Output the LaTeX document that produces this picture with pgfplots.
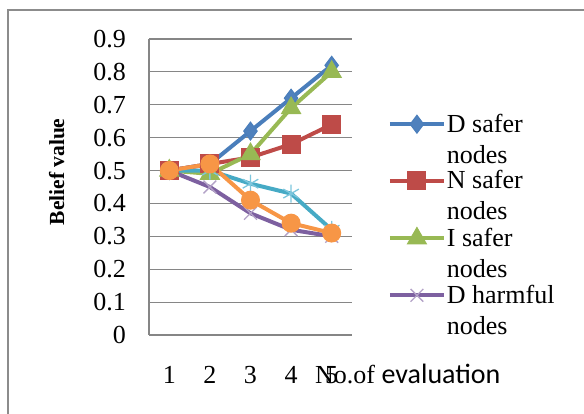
\documentclass[border=0pt]{standalone}
\usepackage{pgfplots}
\pgfplotsset{compat=1.18}
\usepackage{fontspec}
\setmainfont{Liberation Serif}
\newfontfamily\carlito{Carlito}
\definecolor{cblue}{HTML}{4A7EBB}
\definecolor{cbluem}{HTML}{4F81BD}
\definecolor{cred}{HTML}{BE4B48}
\definecolor{cgreen}{HTML}{98B954}
\definecolor{cpurple}{HTML}{7D60A0}
\definecolor{cpurplem}{HTML}{B3A2C7}
\definecolor{ccyan}{HTML}{46AAC5}
\definecolor{ccyanm}{HTML}{7DC6DD}
\definecolor{corange}{HTML}{F79646}
\definecolor{gridgray}{HTML}{868686}
\definecolor{bordergray}{HTML}{8C8C8C}
\begin{document}
\begin{tikzpicture}[x=1pt,y=1pt]
\path[use as bounding box] (0,0) rectangle (584,414);
\draw[color=bordergray, line width=2.2pt] (8,-5) -- (8,404) -- (590,404);
\begin{axis}[
  at={(149pt,79pt)}, anchor=south west,
  scale only axis, width=203pt, height=296pt,
  xmin=0.5, xmax=5.5, ymin=0, ymax=0.9,
  axis x line*=bottom, axis y line*=left,
  axis line style={draw=gridgray, line width=1.2pt, -},
  xtick={1,2,3,4,5}, xticklabels={1,2,3,4,5},
  ytick={0,0.1,0.2,0.3,0.4,0.5,0.6,0.7,0.8,0.9},
  yticklabels={0,0.1,0.2,0.3,0.4,0.5,0.6,0.7,0.8,0.9},
  major tick length=0pt, tick style={draw=none},
  ymajorgrids, grid style={draw=gridgray, line width=1.2pt},
  yticklabel style={font=\fontsize{26}{30}\selectfont, anchor=east, inner sep=0pt, xshift=-23pt},
  xticklabel style={font=\fontsize{26}{30}\selectfont, anchor=base, inner sep=0pt, yshift=-49pt},
  xlabel={No.of {\carlito\fontsize{28}{32}\selectfont evaluation}},
  xlabel style={font=\fontsize{26}{30}\selectfont, at={(axis description cs:0.8177,-0.1655)}, anchor=base west, inner sep=0pt},
  ylabel={Belief value},
  ylabel style={font=\bfseries\fontsize{21.5}{24}\selectfont, at={(axis description cs:-0.455,0.551)}, anchor=center, inner sep=0pt},
  legend image code/.code={\draw[mark repeat=2, mark phase=2, #1] plot coordinates {(0pt,39pt)(27pt,39pt)(54pt,39pt)};},
  legend cell align=left,
  legend style={at={(axis description cs:1.177,0.747)}, anchor=north west, draw=none, fill=none, inner sep=0pt, outer sep=0pt,
    font=\fontsize{26}{31}\selectfont, row sep=6pt, column sep=1pt,
    nodes={align=left, inner sep=0pt},
    cells={anchor=base west}},
  every axis plot/.append style={line width=4pt},
]
\addplot[color=cblue, mark=diamond*, mark size=9pt, mark options={fill=cbluem, draw=cblue, line width=1pt}]
  coordinates {(1,0.50) (2,0.52) (3,0.62) (4,0.72) (5,0.82)};
\addlegendentry{D safer\\nodes}
\addplot[color=cred, mark=square*, mark size=9pt, mark options={fill=cred, draw=cred, line width=1pt}]
  coordinates {(1,0.50) (2,0.52) (3,0.54) (4,0.58) (5,0.64)};
\addlegendentry{N safer\\nodes}
\addplot[color=cgreen, mark=triangle*, mark size=11pt, mark options={fill=cgreen, draw=cgreen, line width=1pt}]
  coordinates {(1,0.50) (2,0.49) (3,0.55) (4,0.69) (5,0.80)};
\addlegendentry{I safer\\nodes}
\addplot[color=cpurple, mark=x, mark size=9pt, mark options={draw=cpurplem, line width=1.3pt}]
  coordinates {(1,0.50) (2,0.45) (3,0.37) (4,0.32) (5,0.30)};
\addlegendentry{D harmful\\nodes}
\addplot[forget plot, color=ccyan, mark=asterisk, mark size=9pt, mark options={draw=ccyanm, line width=1.3pt}]
  coordinates {(1,0.50) (2,0.50) (3,0.46) (4,0.43) (5,0.32)};
\addplot[forget plot, color=corange, mark=*, mark size=9pt, mark options={fill=corange, draw=corange, line width=1pt}]
  coordinates {(1,0.50) (2,0.52) (3,0.41) (4,0.34) (5,0.31)};
\end{axis}
\end{tikzpicture}
\end{document}
